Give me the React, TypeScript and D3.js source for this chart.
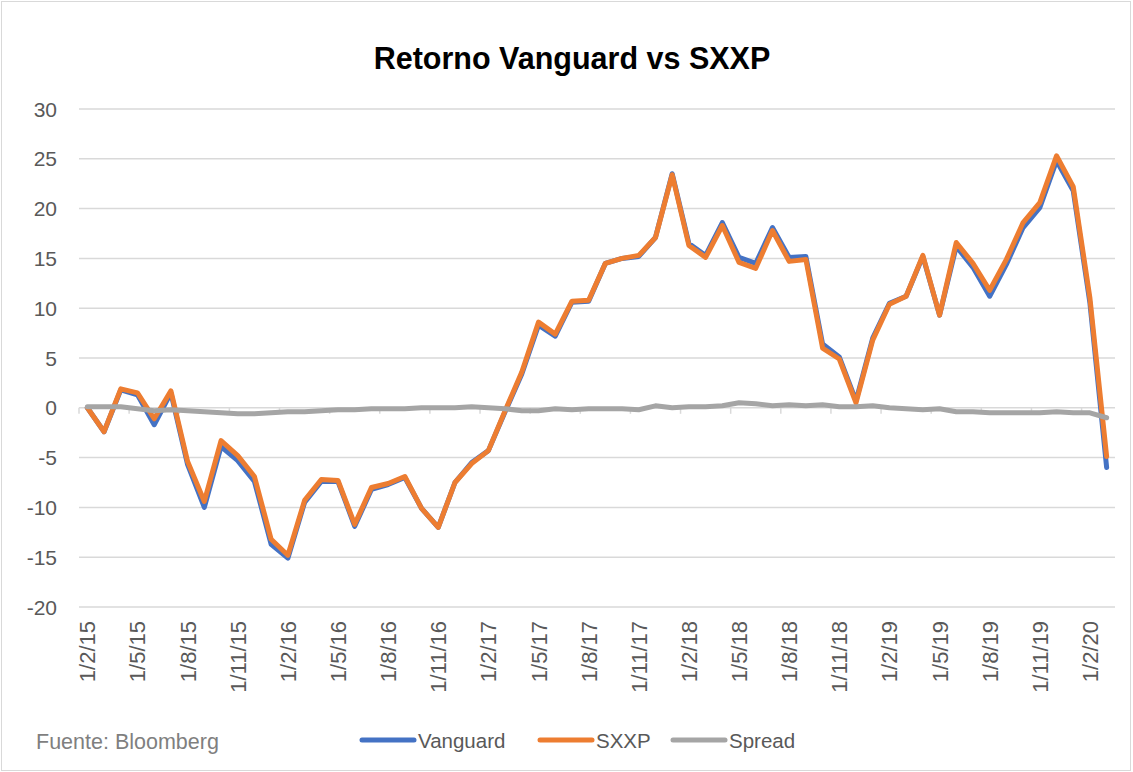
import React from 'react';
import * as d3 from 'd3';

// monthly returns, Feb 2015 .. Mar 2020
const sxxp = [
  0, -2.4, 1.9, 1.5, -1.1, 1.7, -5.4, -9.4, -3.3, -4.8, -6.9, -13.2, -14.8, -9.3, -7.2, -7.3,
  -11.7, -8.0, -7.6, -6.9, -10.1, -12.0, -7.5, -5.6, -4.3, -0.3, 3.6, 8.6, 7.4, 10.7, 10.8,
  14.5, 15.0, 15.3, 17.1, 23.4, 16.3, 15.1, 18.3, 14.6, 14.0, 17.8, 14.7, 14.9, 6.0, 4.9,
  0.5, 6.8, 10.4, 11.2, 15.3, 9.3, 16.6, 14.5, 11.8, 14.9, 18.6, 20.6, 25.3, 22.2, 11.0, -4.9,
];
const vanguard = [
  0, -2.4, 1.8, 1.3, -1.7, 1.5, -5.7, -10.0, -3.9, -5.3, -7.4, -13.7, -15.1, -9.5, -7.4, -7.4,
  -11.9, -8.2, -7.7, -7.0, -10.1, -12.0, -7.5, -5.5, -4.3, -0.4, 3.4, 8.3, 7.2, 10.6, 10.7,
  14.5, 15.0, 15.2, 17.1, 23.5, 16.5, 15.3, 18.6, 15.1, 14.5, 18.1, 15.1, 15.2, 6.4, 5.1,
  0.7, 7.0, 10.5, 11.2, 15.2, 9.3, 16.2, 14.1, 11.2, 14.4, 18.1, 20.1, 24.8, 21.8, 10.5, -6.0,
];
const spread = [
  0.1, 0.1, 0.1, -0.1, -0.3, -0.2, -0.3, -0.4, -0.5, -0.6, -0.6, -0.5, -0.4, -0.4, -0.3, -0.2,
  -0.2, -0.1, -0.1, -0.1, 0, 0, 0, 0.1, 0, -0.1, -0.3, -0.3, -0.1, -0.2, -0.1,
  -0.1, -0.1, -0.2, 0.2, 0, 0.1, 0.1, 0.2, 0.5, 0.4, 0.2, 0.3, 0.2, 0.3, 0.1,
  0.1, 0.2, 0, -0.1, -0.2, -0.1, -0.4, -0.4, -0.5, -0.5, -0.5, -0.5, -0.4, -0.5, -0.5, -1.0,
];
const tickLabels = [
  '1/2/15', '1/5/15', '1/8/15', '1/11/15', '1/2/16', '1/5/16', '1/8/16', '1/11/16',
  '1/2/17', '1/5/17', '1/8/17', '1/11/17', '1/2/18', '1/5/18', '1/8/18', '1/11/18',
  '1/2/19', '1/5/19', '1/8/19', '1/11/19', '1/2/20',
];
const yTicks = [-20, -15, -10, -5, 0, 5, 10, 15, 20, 25, 30];

const months = d3.range(sxxp.length);
const series = [
  { name: 'Vanguard', values: vanguard, color: '#4472C4' },
  { name: 'SXXP', values: sxxp, color: '#ED7D31' },
  { name: 'Spread', values: spread, color: '#A5A5A5' },
];

const W = 1133;
const H = 772;
const font = '"Liberation Sans", Arial, sans-serif';

const App: React.FC = () => {
  const x = d3.scaleBand<number>().domain(months).range([79, 1115]).paddingInner(0).paddingOuter(0);
  const cx = (i: number) => (x(i) ?? 0) + x.bandwidth() / 2;
  const y = d3.scaleLinear().domain([-20, 30]).range([607, 109]);

  const line = (vals: number[]) =>
    d3.line<number>().x((_, i) => cx(i)).y((d) => y(d))(vals) ?? '';

  const tickIdx = months.filter((i) => i % 3 === 0);
  const tickBounds = d3.range(0, months.length + 1, 3).map((i) =>
    i < months.length ? (x(i) ?? 0) : 1115
  );

  const legendX = [360, 538, 671];

  return (
    <svg width={W} height={H} style={{ position: 'absolute', left: 0, top: 0, background: '#fff' }} fontFamily={font}>
      <rect x={1.5} y={1.5} width={W - 4} height={H - 3} fill="#fff" stroke="#d9d9d9" />
      <text x={572} y={69} textAnchor="middle" fontSize={30.5} fontWeight="bold" fill="#000">
        Retorno Vanguard vs SXXP
      </text>

      {yTicks.map((t) => (
        <g key={t}>
          {t !== 0 && <line x1={79} x2={1115} y1={y(t)} y2={y(t)} stroke="#d9d9d9" strokeWidth={1.5} />}
          <text x={57} y={y(t) + 7.5} textAnchor="end" fontSize={21} fill="#595959">
            {t}
          </text>
        </g>
      ))}

      {/* category axis crossing at 0 */}
      <line x1={79} x2={1115} y1={y(0)} y2={y(0)} stroke="#d9d9d9" strokeWidth={1.5} />
      {tickBounds.map((b, k) => (
        <line key={k} x1={b} x2={b} y1={y(0)} y2={y(0) + 6} stroke="#d9d9d9" strokeWidth={1.5} />
      ))}

      {tickIdx.map((i, k) => (
        <text
          key={i}
          transform={`translate(${cx(i) + 8},621) rotate(-90)`}
          textAnchor="end"
          fontSize={22}
          fill="#595959"
        >
          {tickLabels[k]}
        </text>
      ))}

      {series.map((s) => (
        <path
          key={s.name}
          d={line(s.values)}
          fill="none"
          stroke={s.color}
          strokeWidth={5}
          strokeLinejoin="round"
          strokeLinecap="round"
        />
      ))}

      <text x={36} y={749} fontSize={21.5} fill="#7f7f7f">Fuente: Bloomberg</text>
      {series.map((s, k) => (
        <g key={s.name} transform={`translate(${legendX[k]},740)`}>
          <line x1={2} x2={54} y1={0} y2={0} stroke={s.color} strokeWidth={5} strokeLinecap="round" />
          <text x={58} y={7.5} fontSize={20.5} fill="#595959">{s.name}</text>
        </g>
      ))}
    </svg>
  );
};

export default App;
